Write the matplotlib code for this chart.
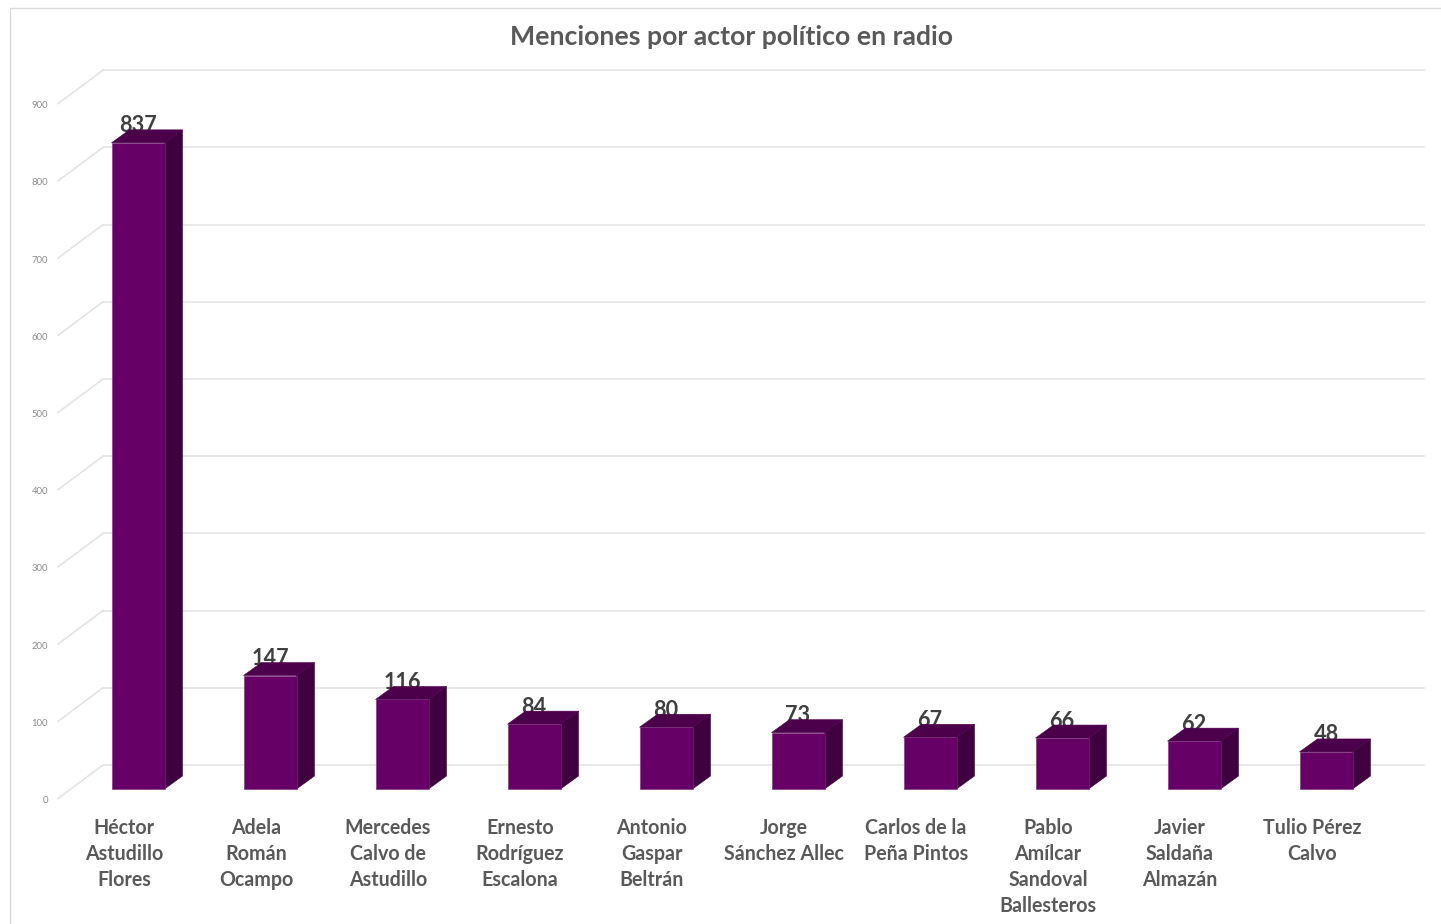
import matplotlib
matplotlib.use("Agg")
import matplotlib.pyplot as plt
from matplotlib.patches import Polygon, Rectangle

plt.rcParams['font.family'] = ['Lato', 'DejaVu Sans']

title = "Menciones por actor político en radio"
actors = ["Héctor\nAstudillo\nFlores", "Adela\nRomán\nOcampo", "Mercedes\nCalvo de\nAstudillo",
          "Ernesto\nRodríguez\nEscalona", "Antonio\nGaspar\nBeltrán", "Jorge\nSánchez Allec",
          "Carlos de la\nPeña Pintos", "Pablo\nAmílcar\nSandoval\nBallesteros",
          "Javier\nSaldaña\nAlmazán", "Tulio Pérez\nCalvo"]
mentions = [837, 147, 116, 84, 80, 73, 67, 66, 62, 48]
y_ticks = [0, 100, 200, 300, 400, 500, 600, 700, 800, 900]

W, H = 1441, 924
X0, DX = 138.0, 132.0      # pixel centre of first bar, pitch
Y0, SY = 789.0, 0.772      # pixel of value 0, pixels per unit
px = lambda n: n / DX      # pixels -> x data
py = lambda n: n / SY      # pixels -> y data

fig = plt.figure(figsize=(W / 100, H / 100), dpi=100, facecolor="white")
ax = fig.add_axes([0, 0, 1, 1])
ax.set_xlim(-X0 / DX, (W - X0) / DX)
ax.set_ylim((Y0 - H) / SY, Y0 / SY)
ax.axis("off")

GRID = "#e2e2e2"
# outer frame of the chart
ax.add_patch(Rectangle((px(9.5 - X0), py(Y0 - H - 5)), px(W + 20), py(H + 5 - 7.5),
                       fill=False, ec="#d9d9d9", lw=1.0, zorder=0))

front_shift = py(-9.5)     # front edge of the walls sits below the bars' base
back_shift = py(24)        # back wall sits above the bars' base
label_shift = py(-11.5)    # the tick text centres sit a little lower
left, wall, right = px(58 - X0), px(103 - X0), px(1424 - X0)
for t in y_ticks:
    ax.plot([left, wall], [t + front_shift, t + back_shift], color=GRID, lw=1.1, zorder=1)
    ax.plot([wall, right], [t + back_shift, t + back_shift], color=GRID, lw=1.1, zorder=1)
    ax.text(px(48 - X0), t + label_shift, str(t), ha="right", va="center",
            fontsize=6.8, color="#8c8c8c", zorder=2)

half = px(26.5)
dx, dy = px(18), py(13)
FRONT, SIDE, TOP = "#660066", "#3e003e", "#4c004c"
for i, (name, v) in enumerate(zip(actors, mentions)):
    ax.text(i, v + py(17), str(v), ha="center", va="center", fontsize=15.6,
            fontweight="bold", color="#404040", zorder=3)
    ax.add_patch(Polygon([(i + half, 0), (i + half + dx, dy), (i + half + dx, v + dy), (i + half, v)],
                         fc=SIDE, ec=SIDE, lw=0.4, zorder=4))
    ax.add_patch(Polygon([(i - half, v), (i + half, v), (i + half + dx, v + dy), (i - half + dx, v + dy)],
                         fc=TOP, ec=TOP, lw=0.4, zorder=4))
    ax.add_patch(Rectangle((i - half, 0), 2 * half, v, fc=FRONT, ec="#7a2a7a", lw=0.4, zorder=5))
    ax.text(i - px(14), py(-28.5), name, ha="center", va="top", fontsize=14.1,
            fontweight="bold", color="#595959", linespacing=1.39, zorder=3)

ax.text(px(732 - X0), py(Y0 - 36.5), title, ha="center", va="center", fontsize=19.2,
        fontweight="bold", color="#595959")

fig.savefig("out.png", dpi=100, facecolor="white")
